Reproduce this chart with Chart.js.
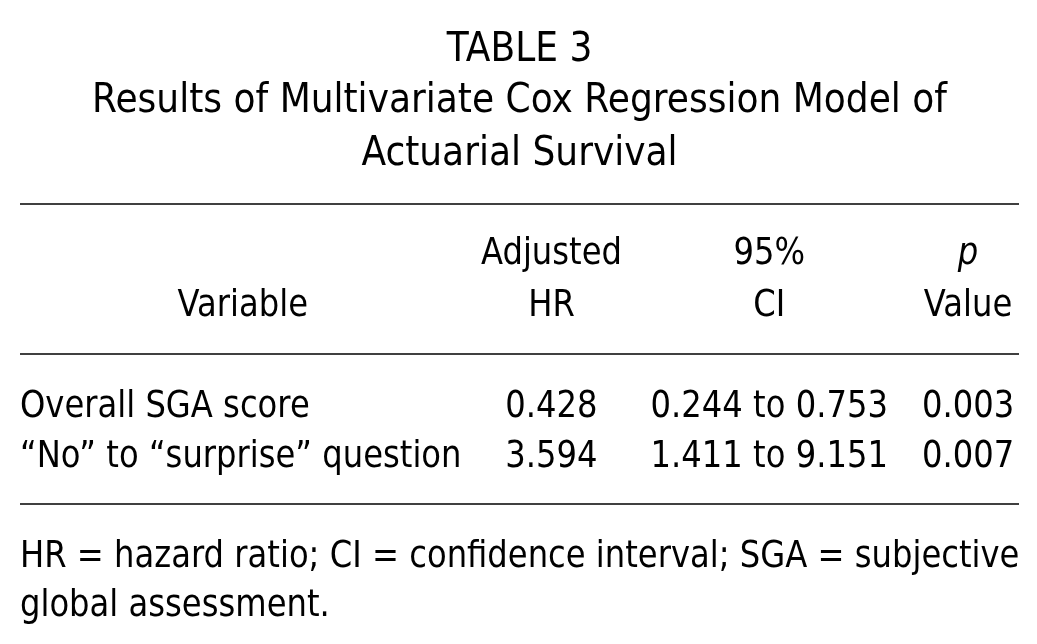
<!DOCTYPE html>
<html>
<head>
<meta charset="utf-8">
<script src="https://cdn.jsdelivr.net/npm/chart.js@4.4.1/dist/chart.umd.min.js"></script>
<style>
html, body { margin: 0; padding: 0; background: #fff; }
#wrap { width: 1037px; height: 644px; }
</style>
</head>
<body>
<div id="wrap"><canvas id="tableChart"></canvas></div>
<script>
// Table text and values
const titleLines = ['TABLE 3', 'Results of Multivariate Cox Regression Model of', 'Actuarial Survival'];
const headerTop = ['', 'Adjusted', '95%', 'p'];
const headerBottom = ['Variable', 'HR', 'CI', 'Value'];
const variables = ['Overall SGA score', '\u201CNo\u201D to \u201Csurprise\u201D question'];
const adjustedHR = [0.428, 3.594];
const ciLower = [0.244, 1.411];
const ciUpper = [0.753, 9.151];
const pValues = [0.003, 0.007];
const footnoteLines = ['HR = hazard ratio; CI = confidence interval; SGA = subjective', 'global assessment.'];

// Layout: x is percent of table width, y is in "line" units (50px each) from the top
const colCenters = [22.3, 53.2, 75.0, 94.9];
const titleRows = [1.22, 2.24, 3.3];
const headerRows = [5.28, 6.32];
const bodyRows = [8.34, 9.34];
const footRows = [11.34, 12.32];
const ruleRows = [4.08, 7.08, 10.08];

const FONT_FAMILY = '"DejaVu Sans", sans-serif';
const titleStyle = { size: 40, squeeze: 0.9 };
const bodyStyle = { size: 38, squeeze: 0.848 }; // source face is condensed, so narrow the glyphs

// build the cell list (each cell is one scatter point carrying its text)
const cells = [];
titleLines.forEach((t, i) => cells.push({ x: 50, y: titleRows[i], text: t, align: 'center', style: titleStyle }));
headerTop.forEach((t, c) => {
    if (t) cells.push({ x: colCenters[c], y: headerRows[0], text: t, align: 'center', italic: c === 3 });
});
headerBottom.forEach((t, c) => cells.push({ x: colCenters[c], y: headerRows[1], text: t, align: 'center' }));
variables.forEach((v, r) => {
    const y = bodyRows[r];
    cells.push({ x: 0, y: y, text: v, align: 'left' });
    cells.push({ x: colCenters[1], y: y, text: adjustedHR[r].toFixed(3), align: 'center' });
    cells.push({ x: colCenters[2], y: y, text: ciLower[r].toFixed(3) + ' to ' + ciUpper[r].toFixed(3), align: 'center' });
    cells.push({ x: colCenters[3], y: y, text: pValues[r].toFixed(3), align: 'center' });
});
footnoteLines.forEach((t, i) => cells.push({ x: 0, y: footRows[i], text: t, align: 'left' }));

function drawText(ctx, cell, x, y) {
    const st = cell.style || bodyStyle;
    ctx.save();
    ctx.font = (cell.italic ? 'italic ' : '') + st.size + 'px ' + FONT_FAMILY;
    const w = ctx.measureText(cell.text).width * st.squeeze;
    let left = x;
    if (cell.align === 'center') left = x - w / 2;
    if (cell.align === 'right') left = x - w;
    ctx.translate(left, y);
    ctx.scale(st.squeeze, 1);
    ctx.fillStyle = '#000';
    ctx.textAlign = 'left';
    ctx.textBaseline = 'alphabetic';
    ctx.fillText(cell.text, 0, 0);
    ctx.restore();
}

const tableText = {
    id: 'tableText',
    beforeDraw(chart) {
        const ctx = chart.ctx;
        ctx.save();
        ctx.fillStyle = '#fff';
        ctx.fillRect(0, 0, chart.width, chart.height);
        ctx.restore();
    },
    afterDatasetsDraw(chart) {
        const meta = chart.getDatasetMeta(0);
        meta.data.forEach((pt, i) => drawText(chart.ctx, cells[i], pt.x, pt.y));
    }
};

const ruleSets = ruleRows.map(r => ({
    type: 'line',
    data: [{ x: 0, y: r }, { x: 100, y: r }],
    borderColor: '#000',
    borderWidth: 1.5,
    pointRadius: 0
}));

new Chart(document.getElementById('tableChart'), {
    type: 'scatter',
    data: {
        datasets: [{
            label: 'cells',
            data: cells,
            pointRadius: 0
        }].concat(ruleSets)
    },
    options: {
        responsive: true,
        maintainAspectRatio: false,
        animation: false,
        events: [],
        layout: { padding: { left: 20, right: 18, top: 0, bottom: 0 } },
        plugins: {
            legend: { display: false },
            tooltip: { enabled: false }
        },
        scales: {
            x: { type: 'linear', min: 0, max: 100, display: false },
            y: { type: 'linear', min: 0, max: 12.88, reverse: true, display: false }
        }
    },
    plugins: [tableText]
});
</script>
</body>
</html>
